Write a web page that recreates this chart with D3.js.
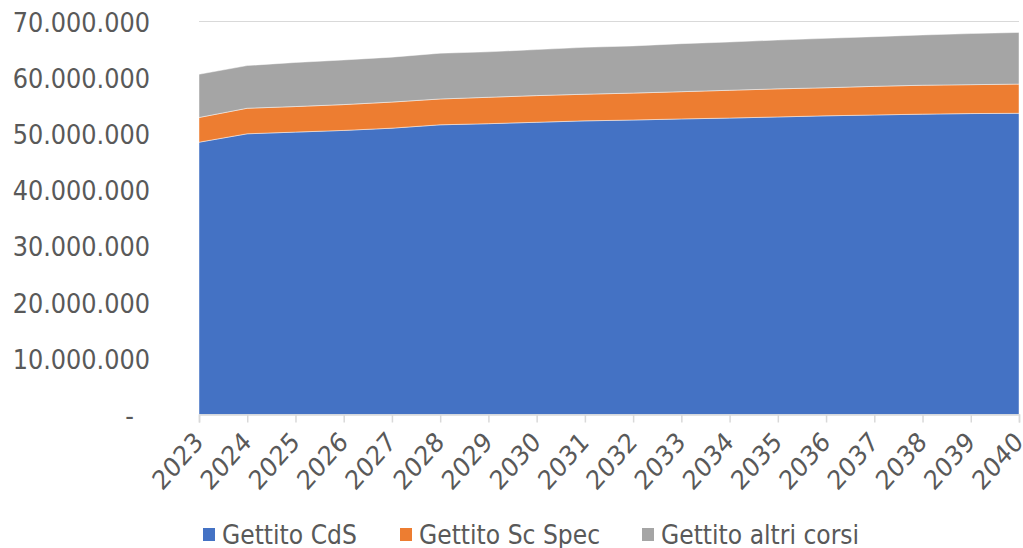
<!DOCTYPE html>
<html>
<head>
<meta charset="utf-8">
<script src="https://cdn.jsdelivr.net/npm/d3@7"></script>
<style>
  body { margin: 0; background: #fff; }
  svg { display: block; }
  text { font-family: "DejaVu Sans", Verdana, sans-serif; fill: #595959; }
</style>
</head>
<body>
<svg id="chart"></svg>
<script>
// anni
var years = [2023, 2024, 2025, 2026, 2027, 2028, 2029, 2030, 2031, 2032, 2033, 2034, 2035, 2036, 2037, 2038, 2039, 2040]
// gettito in euro
var gettitoCdS = [48500000, 50000000, 50300000, 50600000, 51000000, 51600000, 51800000, 52050000, 52300000, 52450000, 52650000, 52800000, 53000000, 53200000, 53350000, 53500000, 53600000, 53650000]
var gettitoScSpec = [4400000, 4550000, 4550000, 4600000, 4650000, 4600000, 4700000, 4750000, 4750000, 4800000, 4850000, 4950000, 5000000, 5000000, 5100000, 5150000, 5150000, 5200000]
var gettitoAltri = [7700000, 7600000, 7850000, 7950000, 8000000, 8150000, 8100000, 8200000, 8350000, 8400000, 8550000, 8600000, 8700000, 8800000, 8850000, 8950000, 9100000, 9200000]
var seriesNames = ["Gettito CdS", "Gettito Sc Spec", "Gettito altri corsi"]
var colors = ["#4472C4", "#ED7D31", "#A5A5A5"]
var yTicks = [0, 10000000, 20000000, 30000000, 40000000, 50000000, 60000000, 70000000]

var dimensions = {
    width: 1023,
    height: 548,
    margin: { top: 21.5, bottom: 133.5, left: 199, right: 4 }
}
var stretch = 1.14

var svg = d3.select("#chart")
            .attr("width", dimensions.width)
            .attr("height", dimensions.height)

var table = years.map((y, i) => ({
    year: y,
    cds: gettitoCdS[i],
    sc: gettitoScSpec[i],
    altri: gettitoAltri[i]
}))

var stack = d3.stack().keys(["cds", "sc", "altri"])
var layers = stack(table)

var xScale = d3.scaleLinear()
               .domain(d3.extent(years))
               .range([dimensions.margin.left, dimensions.width - dimensions.margin.right])

var yScale = d3.scaleLinear()
               .domain([0, 70000000])
               .range([dimensions.height - dimensions.margin.bottom, dimensions.margin.top])

var fmt = d => d === 0 ? "-" : d3.format(",")(d).replace(/,/g, ".")

// griglia
svg.append("g")
   .selectAll("line")
   .data(yTicks.filter(d => d > 0))
   .join("line")
   .attr("x1", xScale.range()[0])
   .attr("x2", xScale.range()[1])
   .attr("y1", d => yScale(d))
   .attr("y2", d => yScale(d))
   .style("stroke", "#D9D9D9")
   .style("stroke-width", 1.2)

var area = d3.area()
             .x(d => xScale(d.data.year))
             .y0(d => yScale(d[0]))
             .y1(d => yScale(d[1]))

svg.append("g")
   .selectAll("path")
   .data(layers)
   .join("path")
   .attr("d", area)
   .style("fill", (d, i) => colors[i])
   .style("stroke", "#ffffff")
   .style("stroke-opacity", 0.45)
   .style("stroke-width", 1)

// asse x
var xAxisgen = d3.axisBottom(xScale).tickValues(years).tickFormat(d3.format("d")).tickSize(8).tickPadding(0)
var xAxis = svg.append("g")
               .attr("transform", `translate(0,${yScale(0)})`)
               .call(xAxisgen)
xAxis.select(".domain").style("stroke", "#D9D9D9").style("stroke-width", 1.5)
xAxis.selectAll(".tick line").style("stroke", "#D9D9D9").style("stroke-width", 1.5)
xAxis.selectAll(".tick text")
     .style("font-size", "23.5px")
     .style("text-anchor", "end")
     .attr("y", 0)
     .attr("dy", 0)
     .attr("transform", `translate(5,29) scale(1,${stretch}) rotate(-45)`)

// asse y
var yAxisgen = d3.axisLeft(yScale).tickValues(yTicks).tickFormat(fmt).tickSize(0).tickPadding(0)
var yAxis = svg.append("g")
               .attr("transform", "translate(150,0)")
               .call(yAxisgen)
yAxis.select(".domain").remove()
yAxis.selectAll(".tick text")
     .style("font-size", "24px")
     .attr("x", d => d === 0 ? -16 : 0)
     .attr("dy", "0.36em")
     .attr("transform", `scale(1,${stretch})`)

// legenda
var legendX = [203, 400, 642]
var legend = svg.append("g")
                .selectAll("g")
                .data(seriesNames)
                .join("g")
                .attr("transform", (d, i) => `translate(${legendX[i]},534)`)
legend.append("rect")
      .attr("x", 0)
      .attr("y", -6)
      .attr("width", 12)
      .attr("height", 13)
      .style("fill", (d, i) => colors[i])
legend.append("text")
      .attr("x", 19)
      .attr("dy", "0.36em")
      .attr("transform", `scale(1,${stretch})`)
      .style("font-size", "23.5px")
      .text(d => d)
</script>
</body>
</html>
